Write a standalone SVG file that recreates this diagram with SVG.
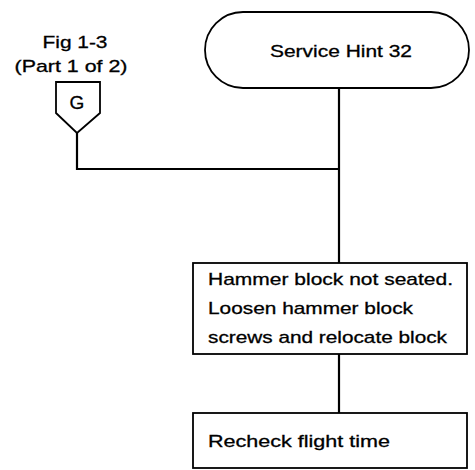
<svg xmlns="http://www.w3.org/2000/svg" width="475" height="470" viewBox="0 0 475 470">
<style>
.s{fill:none;stroke:#000;stroke-width:1.8}
.c{fill:none;stroke:#000;stroke-width:2.2}
.t{font-family:"Liberation Sans",Arial,sans-serif;font-size:17px;fill:#000;stroke:#000;stroke-width:0.3}
</style>
<rect width="475" height="470" fill="#fff"/>
<g id="connectors">
<polyline class="c" points="77,133 77,169 339,169"/>
<line class="c" x1="339" y1="88" x2="339" y2="263"/>
<line class="c" x1="339" y1="354" x2="339" y2="413"/>
</g>
<g id="offpage-G">
<text class="t" x="75" y="48" text-anchor="middle" textLength="65" lengthAdjust="spacingAndGlyphs">Fig 1-3</text>
<text class="t" x="71" y="72" text-anchor="middle" textLength="113" lengthAdjust="spacingAndGlyphs">(Part 1 of 2)</text>
<polygon class="s" points="56,82 100,82 100,113 77,133 56,113"/>
<text class="t" x="77" y="109" text-anchor="middle" style="font-size:19px">G</text>
</g>
<g id="start">
<rect class="s" x="205" y="12" width="264" height="76" rx="38"/>
<text class="t" x="341" y="57" text-anchor="middle" textLength="142" lengthAdjust="spacingAndGlyphs">Service Hint 32</text>
</g>
<g id="hammer">
<rect class="s" x="193" y="263" width="274" height="91"/>
<text class="t" x="208" y="285" textLength="245" lengthAdjust="spacingAndGlyphs">Hammer block not seated.</text>
<text class="t" x="208" y="314" textLength="205" lengthAdjust="spacingAndGlyphs">Loosen hammer block</text>
<text class="t" x="208" y="343" textLength="239" lengthAdjust="spacingAndGlyphs">screws and relocate block</text>
</g>
<g id="recheck">
<rect class="s" x="193" y="413" width="274" height="55"/>
<text class="t" x="208" y="447" textLength="182" lengthAdjust="spacingAndGlyphs">Recheck flight time</text>
</g>
</svg>
